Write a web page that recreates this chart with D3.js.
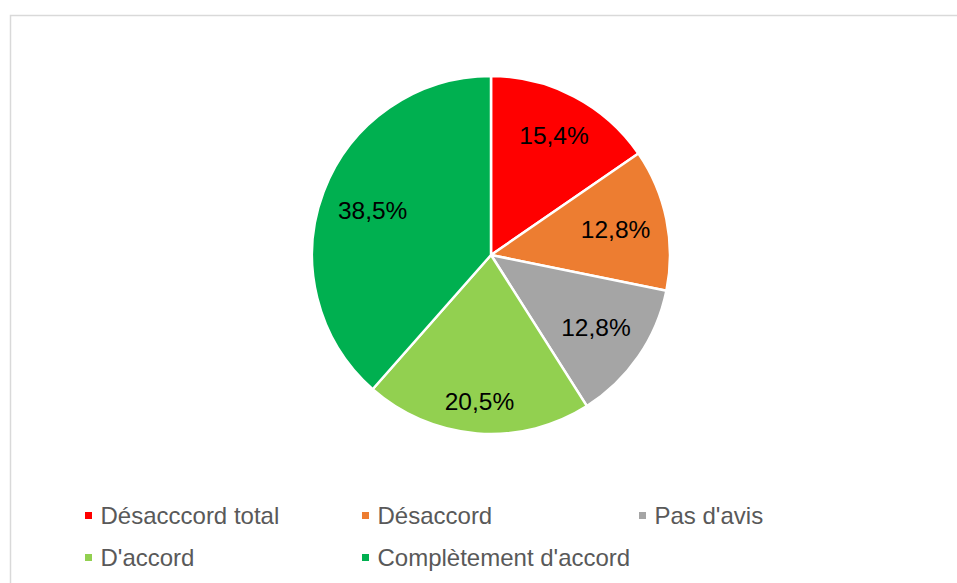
<!DOCTYPE html>
<html><head><meta charset="utf-8">
<script src="https://cdn.jsdelivr.net/npm/d3@7"></script>
<style>html,body{margin:0;padding:0;background:#fff;}svg{display:block;}</style>
</head><body>
<script>
const categories = ["Désacccord total", "Désaccord", "Pas d'avis", "D'accord", "Complètement d'accord"];
const values = [15.4, 12.8, 12.8, 20.5, 38.5];
const labels = ["15,4%", "12,8%", "12,8%", "20,5%", "38,5%"];
const colors = ["#FF0000", "#ED7D31", "#A5A5A5", "#92D050", "#00B050"];

const W = 957, H = 583;
const svg = d3.select("body").append("svg").attr("width", W).attr("height", H);

// frame
svg.append("rect").attr("x", 10.5).attr("y", 15.5).attr("width", W).attr("height", H)
  .attr("fill", "#fff").attr("stroke", "#d9d9d9").attr("stroke-width", 1.5);

const cx = 491, cy = 255, r = 179;
const pie = d3.pie().sort(null).value(d => d)(values);
const arc = d3.arc().innerRadius(0).outerRadius(r);

const g = svg.append("g").attr("transform", `translate(${cx},${cy})`);
g.selectAll("path").data(pie).join("path")
  .attr("d", arc).attr("fill", (d, i) => colors[i])
  .attr("stroke", "#fff").attr("stroke-width", 2.5).attr("stroke-linejoin", "round");

// labels: best-fit inside slice, outer edge of label box at a fixed radius
const edgeR = 164, halfH = 14;
g.selectAll("text").data(pie).join("text")
  .attr("text-anchor", "middle").attr("dy", "0.35em")
  .attr("font-family", "Liberation Sans, Arial, sans-serif").attr("font-size", 24.5)
  .attr("fill", "#000").text((d, i) => labels[i])
  .each(function(d) {
    const a = (d.startAngle + d.endAngle) / 2;
    const hw = this.getBBox().width / 2;
    const ext = hw * Math.abs(Math.sin(a)) + halfH * Math.abs(Math.cos(a));
    const rr = edgeR - ext;
    d3.select(this).attr("transform", `translate(${rr * Math.sin(a)},${-rr * Math.cos(a)})`);
  });

// legend
const legPos = [[85, 524], [362, 524], [639, 524], [85, 566], [362, 566]];
const leg = svg.append("g");
categories.forEach((c, i) => {
  const [x, y] = legPos[i];
  leg.append("rect").attr("x", x).attr("y", y - 12).attr("width", 7).attr("height", 7).attr("fill", colors[i]);
  leg.append("text").attr("x", x + 15.5).attr("y", y)
    .attr("font-family", "Liberation Sans, Arial, sans-serif").attr("font-size", 24)
    .attr("fill", "#595959").text(c);
});
</script>
</body></html>
